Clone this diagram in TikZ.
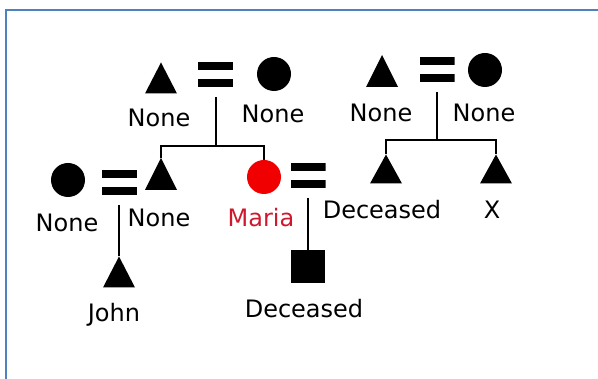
\documentclass[tikz,border=0pt]{standalone}
\usepackage{fontspec}
\setmainfont{DejaVu Sans}
\definecolor{frameblue}{RGB}{79,129,189}
\definecolor{mariared}{RGB}{205,25,45}
\definecolor{dotred}{RGB}{240,0,0}
\begin{document}
\begin{tikzpicture}[x=1pt,y=-1pt,
  lbl/.style={anchor=base,inner sep=0pt,font=\fontsize{24pt}{28pt}\selectfont},
  tri/.style={inner sep=0pt,minimum width=32pt,minimum height=31pt,
    path picture={\fill (path picture bounding box.north) -- (path picture bounding box.south east) -- (path picture bounding box.south west) -- cycle;}},
  eqs/.style={inner sep=0pt,minimum width=35pt,minimum height=25pt,
    path picture={\fill (path picture bounding box.north west) rectangle ([yshift=-8pt]path picture bounding box.north east);
                  \fill (path picture bounding box.south west) rectangle ([yshift=8pt]path picture bounding box.south east);}},
  dot/.style={circle,fill,inner sep=0pt,minimum size=34pt},
  sq/.style={rectangle,fill,inner sep=0pt,minimum width=34pt,minimum height=33pt},
  link/.style={line width=1.8pt}
]
\useasboundingbox (0,0) rectangle (598,379);
\draw[frameblue,line width=2.2pt] (6,379) -- (6,10) -- (598,10);

% top-left couple
\node[tri] (gfA) at (161,78) {};
\node[eqs] (eqA) at (215.5,75) {};
\node[dot] (gmA) at (274,74) {};
\node[lbl] (lgfA) at (159,127) {None};
\node[lbl] (lgmA) at (273,123) {None};

% top-right couple
\node[tri,minimum height=32pt] (gfC) at (382,71) {};
\node[eqs] (eqC) at (437,70) {};
\node[dot] (gmC) at (485,70) {};
\node[lbl] (lgfC) at (381,122) {None};
\node[lbl] (lgmC) at (484,122) {None};
\node[tri,minimum height=29pt] (chD) at (386,169) {};
\node[tri,minimum height=29pt] (chE) at (496,169) {};
\node[lbl] (lchD) at (382,219) {Deceased};
\node[lbl] (lchE) at (492,219) {X};

% second row left couple
\node[dot] (wB) at (68,180) {};
\node[eqs] (eqB) at (119.5,182.5) {};
\node[tri,minimum height=32pt] (hB) at (161,174) {};
\node[lbl] (lwB) at (67,232) {None};
\node[lbl] (lhB) at (159,227) {None};
\node[tri] (john) at (119,272) {};
\node[lbl] (ljohn) at (114,322) {John};

% Maria
\node[dot,fill=dotred] (maria) at (264,177) {};
\node[eqs] (eqM) at (308,176) {};
\node[lbl,text=mariared] (lmaria) at (261,227) {Maria};
\node[sq] (son) at (308,266.5) {};
\node[lbl] (lson) at (304,318) {Deceased};

% connectors
\coordinate (jA) at (216,97);
\coordinate (hA) at (216,146);
\draw[link] (jA) -- (hA);
\draw[link] (hB.north) |- (hA) -| (maria.north);

\coordinate (jC) at (437,92);
\coordinate (hC) at (437,140);
\draw[link] (jC) -- (hC);
\draw[link] (chD.north) |- (hC) -| (chE.north);

\coordinate (jB) at (119,205);
\draw[link] (jB) -- (john.north);

\coordinate (jM) at (308,198);
\draw[link] (jM) -- (son.north);
\end{tikzpicture}
\end{document}
